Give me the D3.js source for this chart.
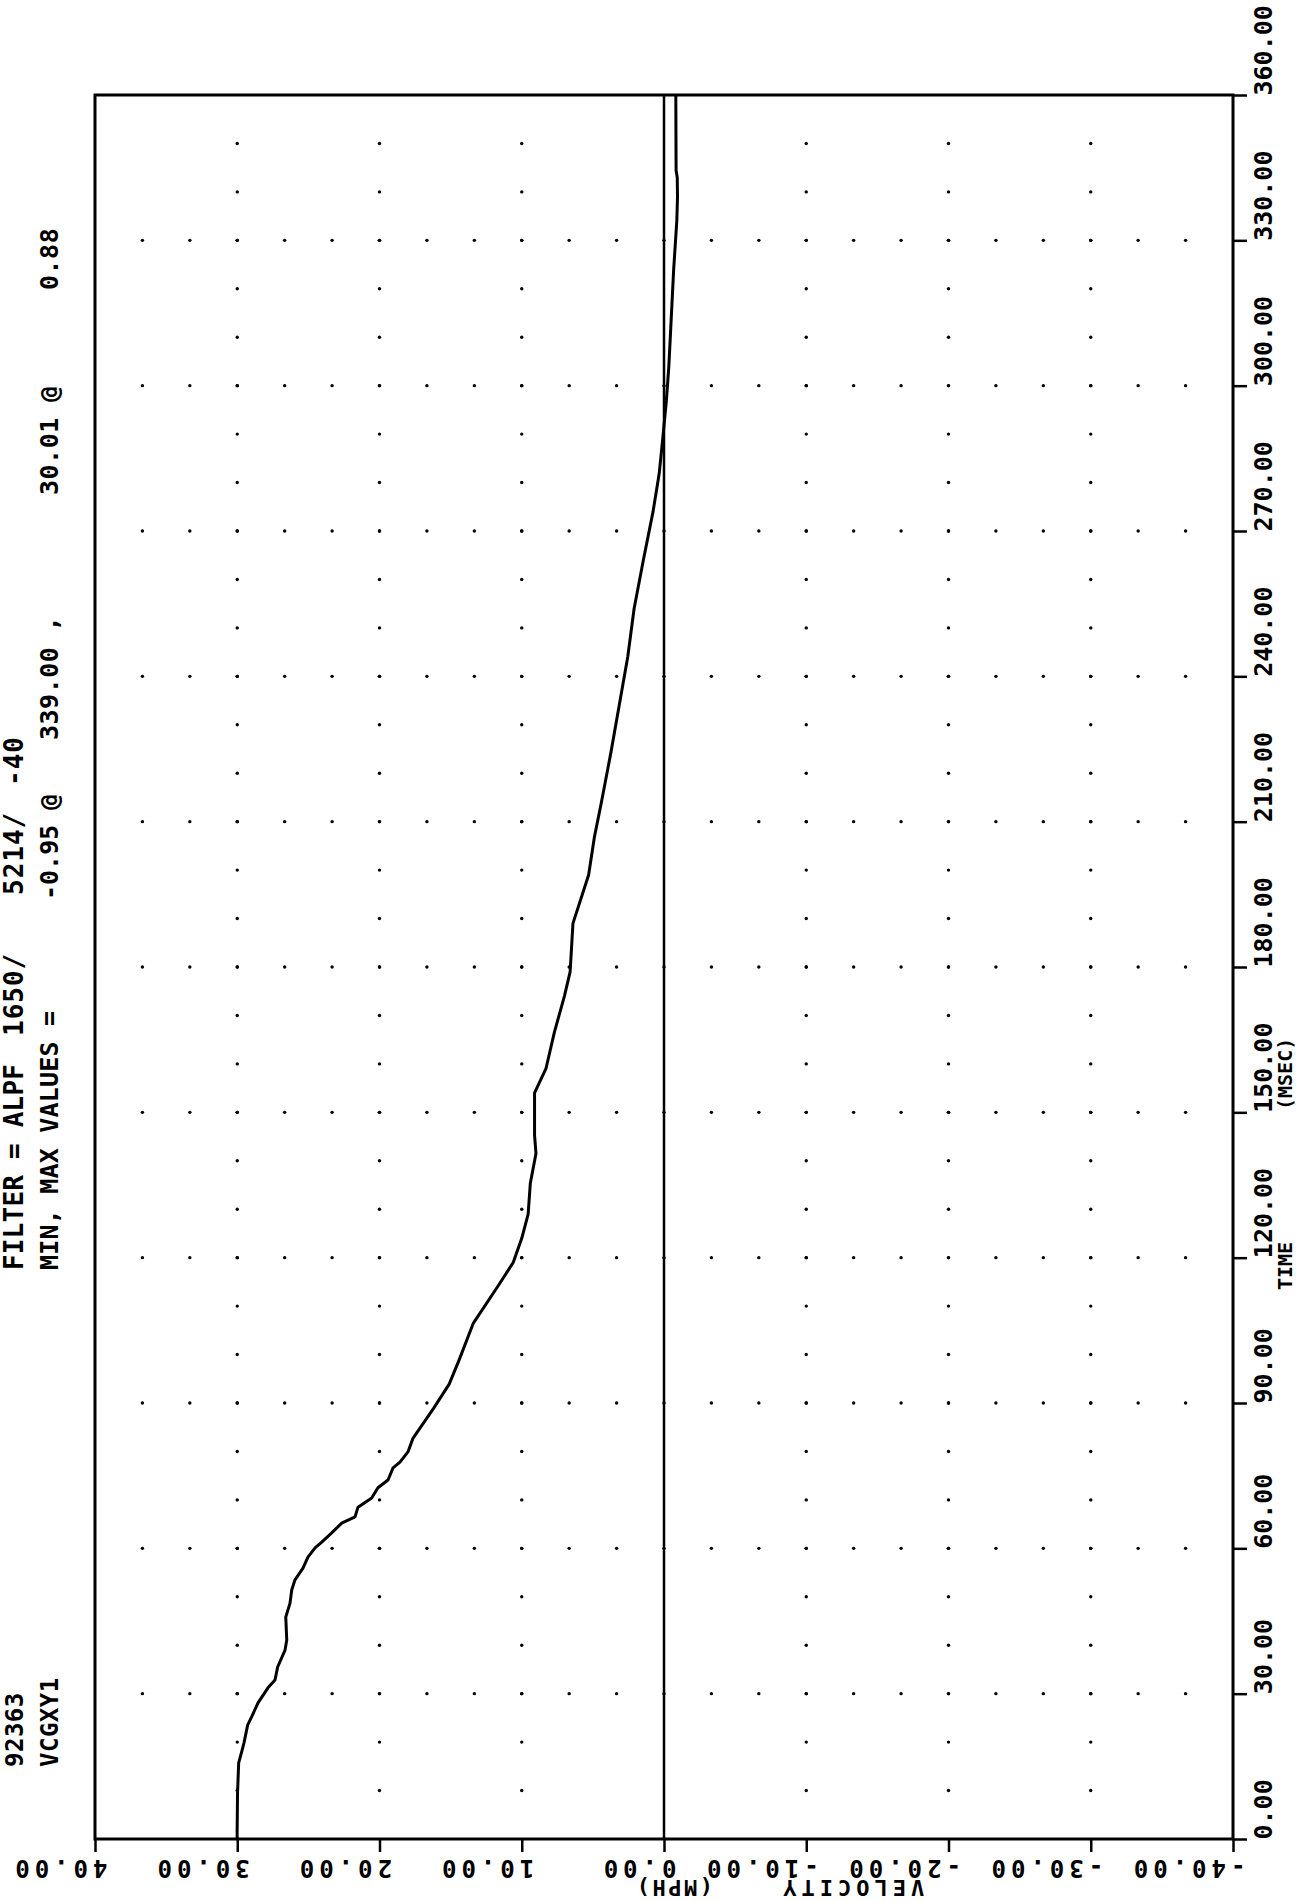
<!DOCTYPE html>
<html><head><meta charset="utf-8">
<script src="https://cdn.jsdelivr.net/npm/d3@7"></script>
<style>body{margin:0;background:#fff}svg{display:block}</style>
</head><body>
<script>
// ---- data ----
const timeMs = [0, 0.88, 9.5, 15.7, 18, 19.8, 23.5, 25.2, 28.1, 31.2, 32.8, 35.5, 39, 41.1, 45.8, 48.7, 51.4, 53.5, 55.9, 58.2, 60.1, 61.3, 63.2, 65.2, 66.5, 68.5, 70.4, 72.5, 74.1, 76.6, 77.8, 79.9, 82.7, 88.9, 93.9, 98.9, 106.5, 114, 119, 124, 129, 135.3, 141.5, 145.3, 154, 159, 166.6, 174, 179, 189, 199, 206.7, 214, 224, 234, 244, 254, 264, 274, 281.8, 289, 297, 304, 314, 324, 334, 339, 343, 344.4, 360];
const velocityMph = [30.0, 30.01, 29.98, 29.9, 29.69, 29.53, 29.27, 28.99, 28.54, 27.84, 27.35, 27.16, 26.64, 26.52, 26.59, 26.29, 26.17, 25.94, 25.38, 25.03, 24.53, 24.06, 23.36, 22.66, 21.72, 21.51, 20.55, 20.11, 19.40, 19.05, 18.56, 18.00, 17.65, 16.2, 15.1, 14.4, 13.4, 11.7, 10.6, 10.0, 9.55, 9.4, 9.0, 9.1, 9.1, 8.3, 7.7, 7.0, 6.6, 6.4, 5.3, 4.9, 4.4, 3.75, 3.15, 2.55, 2.1, 1.45, 0.77, 0.34, 0.09, -0.17, -0.34, -0.51, -0.68, -0.9, -0.95, -0.93, -0.85, -0.83];
const timeTicks = [0, 30, 60, 90, 120, 150, 180, 210, 240, 270, 300, 330, 360];
const timeTickLabels = ["0.00", "30.00", "60.00", "90.00", "120.00", "150.00", "180.00", "210.00", "240.00", "270.00", "300.00", "330.00", "360.00"];
const velocityTicks = [40, 30, 20, 10, 0, -10, -20, -30, -40];
const velocityTickLabels = ["40.00", "30.00", "20.00", "10.00", "0.00", "-10.00", "-20.00", "-30.00", "-40.00"];
const timeTitle = ["TIME", "(MSEC)"];
const velocityTitle = ["VELOCITY", "(MPH)"];
const headerId = ["92363", "VCGXY1"];
const filterLine = ["FILTER = ALPF", "1650/", "5214/", "-40"];
const minMaxLine = ["MIN, MAX VALUES =", "-0.95 @", "339.00 ,", "30.01 @", "0.88"];

// ---- layout ----
const W = 1299, H = 1902;
const L = 95, R = 1233, T = 95, B = 1839;
const FONT = "'DejaVu Sans Mono', 'Liberation Mono', monospace";

const svg = d3.select("body").append("svg").attr("width", W).attr("height", H);
const x = d3.scaleLinear().domain([40, -40]).range([L, R]);
const y = d3.scaleLinear().domain([0, 360]).range([B, T]);

// grid dots
const dots = [];
velocityTicks.filter(v => v !== 40 && v !== -40 && v !== 0).forEach(v => {
  d3.range(10, 360, 10).forEach(t => dots.push([v, t]));
});
timeTicks.filter(t => t !== 0 && t !== 360).forEach(t => {
  d3.range(1, 24).forEach(k => dots.push([40 - k * 10 / 3, t]));
});
svg.append("g").selectAll("circle").data(dots).join("circle")
  .attr("cx", d => x(d[0])).attr("cy", d => y(d[1])).attr("r", 1.7).attr("fill", "#000");

// axes
const gx = svg.append("g").attr("transform", `translate(0,${B})`)
  .call(d3.axisBottom(x).tickValues(velocityTicks).tickSize(13).tickFormat((d, i) => velocityTickLabels[i]));
gx.select(".domain").remove();
gx.selectAll("line").attr("stroke", "#000").attr("stroke-width", 2.5);
gx.selectAll("text")
  .attr("font-family", FONT).attr("font-weight", "bold").attr("font-size", 24)
  .attr("letter-spacing", 5).attr("text-anchor", "start").attr("fill", "#000")
  .attr("x", 0).attr("y", 0).attr("dy", null)
  .attr("transform", "translate(12,21) rotate(180)");

const gy = svg.append("g").attr("transform", `translate(${R},0)`)
  .call(d3.axisRight(y).tickValues(timeTicks).tickSize(14).tickFormat((d, i) => timeTickLabels[i]));
gy.select(".domain").remove();
gy.selectAll("line").attr("stroke", "#000").attr("stroke-width", 2.5);
gy.selectAll("text")
  .attr("font-family", FONT).attr("font-weight", "bold").attr("font-size", 25)
  .attr("letter-spacing", 0).attr("text-anchor", "start").attr("fill", "#000")
  .attr("x", 0).attr("y", 0).attr("dy", null)
  .attr("transform", "translate(39,0) rotate(-90)");

// frame
svg.append("rect").attr("x", L).attr("y", T).attr("width", R - L).attr("height", B - T)
  .attr("fill", "none").attr("stroke", "#000").attr("stroke-width", 3);
// zero line
svg.append("line").attr("x1", x(0)).attr("x2", x(0)).attr("y1", y(0)).attr("y2", y(360))
  .attr("stroke", "#000").attr("stroke-width", 2.5);

// curve
const pts = timeMs.map((t, i) => [t, velocityMph[i]]);
svg.append("path").datum(pts)
  .attr("d", d3.line().x(d => x(d[1])).y(d => y(d[0])))
  .attr("fill", "none").attr("stroke", "#000").attr("stroke-width", 3).attr("stroke-linejoin", "round");

// rotated texts helper
function rtext(str, px, py, size, angle, ls) {
  svg.append("text").attr("transform", `translate(${px},${py}) rotate(${angle})`)
    .attr("font-family", FONT).attr("font-weight", "bold").attr("font-size", size)
    .attr("letter-spacing", ls || 0).attr("fill", "#000")
    .style("white-space", "pre").text(str);
}
// axis titles
rtext(timeTitle[0], 1292, 1290, 20, -90, 0);
rtext(timeTitle[1], 1292, 1110, 20, -90, 0);
rtext(velocityTitle[0], x(-18.3), 1880, 22, 180, 5);
rtext(velocityTitle[1], x(-3.45), 1880, 22, 180, 2.5);

// header
rtext(headerId[0], 23, 1767, 24, -90, 0.5);
rtext(headerId[1], 58, 1767, 24, -90, 0.5);
rtext(filterLine[0], 23, 1270, 26, -90, 0.2);
rtext(filterLine[1], 23, 1036, 26, -90, 1);
rtext(filterLine[2], 23, 895, 26, -90, 1);
rtext(filterLine[3], 23, 786, 26, -90, 1);
rtext(minMaxLine[0], 58, 1270, 25, -90, 0.2);
rtext(minMaxLine[1], 58, 900, 25, -90, 0);
rtext(minMaxLine[2], 58, 740, 25, -90, 0.5);
rtext(minMaxLine[3], 58, 495, 25, -90, 0.5);
rtext(minMaxLine[4], 58, 290, 25, -90, 0.5);
</script>
</body></html>
